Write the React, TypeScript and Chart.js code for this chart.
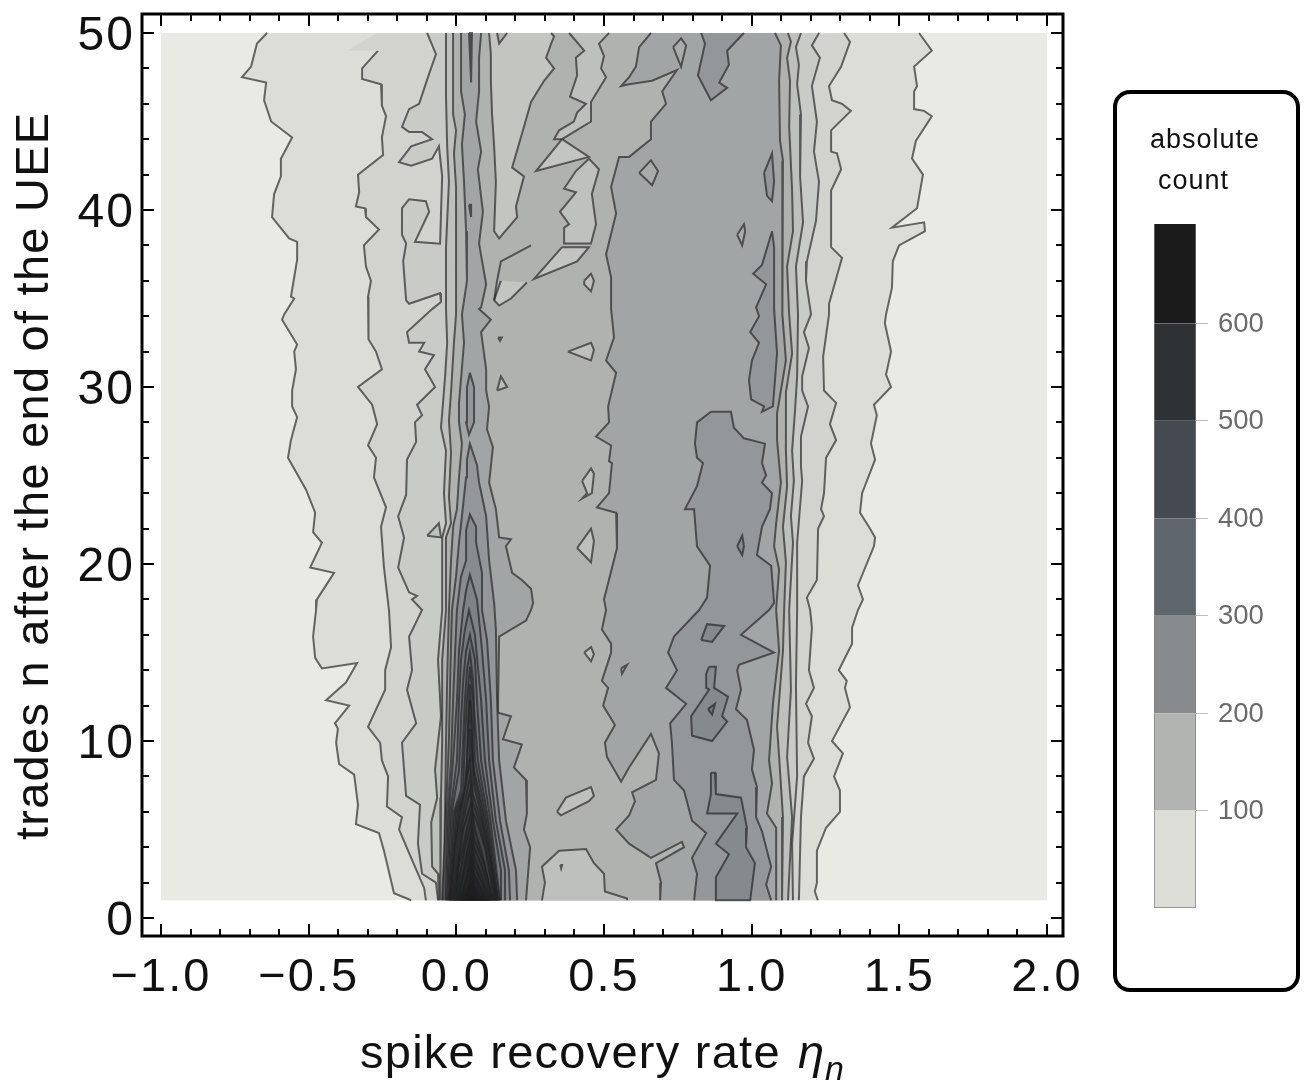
import React, { useEffect, useRef } from "react";
import { Chart, registerables } from "chart.js";

Chart.register(...registerables);

type P = number[];

const xTickValues = [-1, -0.5, 0, 0.5, 1, 1.5, 2];
const xTickLabels = ["\u22121.0", "\u22120.5", "0.0", "0.5", "1.0", "1.5", "2.0"];
const yTickValues = [0, 10, 20, 30, 40, 50];
const legendTicks = [100, 200, 300, 400, 500, 600];
const legendBandValues = [100, 100, 100, 100, 100, 100, 102];
const legendColors = ["#dcddd7", "#b2b4b2", "#878b8d", "#5f666b", "#444a4f", "#2e3234", "#1b1b1b"];

const dataDomain: P[] = [[-1, 1], [-1, 50], [2, 50], [2, 1]];

const c20L: P[] = [[-.641,50],[-.675,49.4],[-.695,48.1],[-.726,47.5],[-.644,47.2],[-.651,46.2],[-.627,45],[-.556,44.1],[-.594,42.9],[-.594,41.9],[-.617,40.9],[-.624,39.6],[-.566,38.4],[-.539,38.2],[-.539,37.2],[-.56,35.1],[-.549,35],[-.583,34.1],[-.59,33.8],[-.539,32.4],[-.549,32],[-.543,31],[-.556,29.8],[-.556,28.9],[-.539,28.3],[-.56,27],[-.57,26],[-.509,24.2],[-.478,22.9],[-.485,21.8],[-.455,21.2],[-.495,19.8],[-.414,19.5],[-.472,18],[-.475,17.4],[-.485,15.9],[-.478,14.7],[-.455,14.1],[-.336,14.4],[-.374,13.3],[-.441,12.3],[-.363,12],[-.411,11],[-.401,10.7],[-.407,9.9],[-.397,8.7],[-.346,8.1],[-.333,6.4],[-.34,5.3],[-.262,4.8],[-.245,3.8],[-.211,1.4],[-.153,1]];
const c20R: P[] = [[1.567,50],[1.61,49],[1.55,48.1],[1.56,47],[1.55,46.7],[1.55,45.7],[1.584,45.6],[1.61,45.3],[1.556,43.9],[1.543,42.9],[1.58,42],[1.56,40.1],[1.475,39],[1.584,39.3],[1.587,38.8],[1.499,38],[1.478,37.1],[1.475,35.6],[1.455,34.1],[1.451,33.6],[1.472,32],[1.455,30.7],[1.472,30],[1.414,29],[1.424,28.4],[1.404,26.8],[1.418,25.9],[1.374,24],[1.367,22.9],[1.397,22.1],[1.418,21.5],[1.414,21],[1.36,18.8],[1.377,18],[1.36,17.4],[1.34,16.4],[1.34,15.5],[1.295,14],[1.322,13.4],[1.316,13],[1.333,11.9],[1.272,10],[1.309,9.3],[1.279,8],[1.299,7.2],[1.299,6],[1.252,5.1],[1.221,3.8],[1.221,2],[1.214,1.5],[1.224,1]];
const c40L: P[] = [[-.265,49],[-.319,48],[-.319,47.4],[-.255,47.1],[-.252,45.9],[-.238,45.3],[-.252,44.1],[-.248,43.1],[-.333,42],[-.329,41],[-.34,40.2],[-.309,40.1],[-.306,39.6],[-.262,38.9],[-.313,38],[-.306,36.8],[-.289,36],[-.299,35.1],[-.296,34.4],[-.299,32.7],[-.272,32],[-.252,31],[-.333,30],[-.285,29],[-.268,27.9],[-.299,26.7],[-.272,26],[-.279,24.9],[-.238,23.2],[-.255,22.1],[-.245,19.8],[-.228,17.4],[-.221,15.3],[-.241,14],[-.241,12.9],[-.299,10.8],[-.258,9.9],[-.252,8.9],[-.231,8],[-.235,6.3],[-.184,5.7],[-.194,5],[-.153,3.4],[-.109,1.7],[-.103,1]];
const c40R: P[] = [[1.313,50],[1.333,49.5],[1.303,48.1],[1.262,47],[1.272,46.2],[1.306,46],[1.336,45.6],[1.269,44.5],[1.269,43.3],[1.289,43.2],[1.303,42.3],[1.269,41.1],[1.269,37.9],[1.306,37.3],[1.262,34.7],[1.262,34.1],[1.242,31.7],[1.245,29.8],[1.286,29.1],[1.265,27.9],[1.286,27],[1.252,26],[1.245,24],[1.235,23.1],[1.245,22.7],[1.225,22],[1.221,19.1],[1.187,18.1],[1.198,17.4],[1.204,16.4],[1.194,14],[1.211,13],[1.184,12.1],[1.204,11.4],[1.191,9.9],[1.211,9],[1.177,8],[1.167,5.7],[1.16,1]];
const topWedge: P[] = [[-.37,49],[-.265,49],[-.09,49],[-.09,50],[-.268,50]];
const c60L: P[] = [[-.099,50],[-.069,48.8],[-.092,47.7],[-.126,46],[-.16,45.7],[-.184,44.7],[-.16,44.4],[-.116,44.4],[-.082,44],[-.153,43.6],[-.194,42.7],[-.153,42.5],[-.082,42.9],[-.059,43.6],[-.048,41.9],[-.055,38.1],[-.14,38.2],[-.092,39.9],[-.103,40.5],[-.16,40.6],[-.184,40.1],[-.184,38.6],[-.17,38.1],[-.18,37.1],[-.17,34.9],[-.16,34.7],[-.055,35.3],[-.052,34.8],[-.082,34.4],[-.167,33.1],[-.16,32.5],[-.109,32.5],[-.126,32],[-.076,31.8],[-.106,31],[-.072,30],[-.133,29],[-.116,28.4],[-.14,28],[-.136,26.9],[-.167,25.9],[-.17,23.9],[-.197,22.7],[-.177,21.5],[-.197,19.8],[-.16,18.4],[-.133,18.2],[-.15,18],[-.116,17.4],[-.16,15.9],[-.15,14],[-.167,12.9],[-.136,11],[-.184,9.9],[-.17,6.9],[-.123,6.4],[-.13,4.2],[-.116,2.5],[-.069,2],[-.062,1]];
const c60R: P[] = [[1.228,50],[1.204,49.3],[1.231,48.6],[1.204,47],[1.221,45],[1.211,43.3],[1.228,41.6],[1.218,39.4],[1.187,37.1],[1.184,36],[1.201,34.1],[1.177,33.1],[1.194,32.2],[1.171,30.6],[1.171,29.8],[1.191,28.9],[1.167,27.2],[1.167,25.5],[1.171,24.7],[1.154,21.2],[1.154,17.4],[1.15,13.1],[1.154,8],[1.137,4.2],[1.14,1]];
const c80L: P[] = [[-.035,50],[-.035,46.4],[-.031,43.6],[-.025,41.6],[-.035,37.9],[-.035,34.4],[-.031,32.5],[-.038,30.6],[-.048,28.5],[-.052,27.7],[-.035,26.4],[-.042,24],[-.035,22.3],[-.048,21.5],[-.048,17.4],[-.062,14.6],[-.052,11.4],[-.072,8.4],[-.065,6.8],[-.085,5.4],[-.082,2.9],[-.062,2.5],[-.059,1]];
const c80R: P[] = [[1.167,50],[1.15,49.2],[1.16,48.2],[1.154,47.1],[1.167,45.4],[1.164,41.9],[1.174,39.3],[1.15,36.8],[1.157,34.1],[1.154,30.6],[1.147,28.7],[1.137,26.4],[1.143,24.7],[1.133,22.7],[1.14,21.2],[1.127,17.4],[1.133,12.9],[1.12,9.1],[1.137,5.7],[1.123,1]];
const c100L: P[] = [[-.011,50],[-.011,45.4],[-.001,44.5],[-.008,43.2],[-.001,41.3],[-.001,38.8],[-.001,34.1],[-.008,32.5],[-.018,29.7],[-.025,28.1],[-.018,26.3],[-.025,23.8],[-.018,22.3],[-.035,21.5],[-.035,17.4],[-.048,14.6],[-.048,9.9],[-.052,6.8],[-.055,3.1],[-.053,1]];
const c100R: P[] = [[1.123,50],[1.133,49.5],[1.12,48.6],[1.13,47.3],[1.127,44.7],[1.137,41.1],[1.14,38.8],[1.12,36.8],[1.127,34.1],[1.137,31.9],[1.116,29.7],[1.116,26.4],[1.12,24.4],[1.106,22.1],[1.116,20.1],[1.11,17.4],[1.106,15.1],[1.086,10.8],[1.093,9.1],[1.106,5.7],[1.103,1]];

const lobeTopA: P[] = [[.111,50],[.117,48.8],[.117,47.3],[.121,45.4],[.128,43.6],[.134,41.6],[.128,38.8],[.145,38.4],[.206,39.6],[.202,40.2],[.229,41.9],[.189,42.4],[.229,44.7],[.253,46.1],[.297,47.3],[.331,48],[.304,48.6],[.321,49.4],[.331,49.8],[.321,50]];
const lobeTopTip: P[] = [[.138,50],[.145,49.4],[.172,50]];
const lobeTopB: P[] = [[.382,50],[.433,49],[.405,48.6],[.409,47.6],[.385,46.4],[.439,46],[.409,45.5],[.398,45],[.348,44.5],[.331,44],[.358,44],[.456,45],[.456,46.1],[.507,47.5],[.49,48],[.5,48.7],[.483,49.4],[.517,50]];
const lobeTri: P[] = [[.358,44],[.449,43],[.27,42.2],[.358,44]];
const lobeMid: P[] = [[.449,42.9],[.483,42.3],[.459,40.9],[.473,39.2],[.456,38.1],[.365,38.1],[.365,39],[.382,39.2],[.351,39.9],[.405,41],[.365,41.2],[.405,42.2],[.449,42.9]];
const lobeLow: P[] = [[.358,37.9],[.449,37.9],[.409,37.1],[.263,36.1],[.358,37.9]];
const lobeTail: P[] = [[.239,35.9],[.185,35],[.145,34.6],[.128,34.9],[.151,36]];
const lobeEdge: P[] = [[.253,38],[.151,37.1],[.138,36],[.128,34.9]];
const lobeBottom: P[] = [[.29,1],[.3,2],[.29,2.9],[.348,3.8],[.439,3.9],[.466,3.1],[.5,2.5],[.503,1.5],[.578,1.1],[.578,1]];
const islands100: P[][] = [
  [[.433,36],[.456,36.4],[.466,36],[.456,35.4],[.433,35.8],[.433,36]],
  [[.378,32],[.456,32.5],[.466,32.1],[.456,31.5],[.378,32]],
  [[.138,29.8],[.151,30.6],[.172,30],[.138,29.8]],
  [[.141,32.8],[.154,32.8],[.148,32.6],[.141,32.8]],
  [[.426,24.7],[.456,25.4],[.466,25.1],[.459,24],[.426,23.7],[.443,24],[.426,24.7]],
  [[.409,20.9],[.456,22],[.466,21.3],[.456,20.1],[.409,20.9]],
  [[-.099,21.6],[-.059,22.3],[-.052,21.5],[-.099,21.6]],
  [[.433,15],[.456,15.3],[.466,14.9],[.456,14.5],[.433,15]],
  [[.341,6],[.371,6.8],[.456,7.4],[.466,6.9],[.449,6.6],[.354,5.8],[.341,6]],
  [[.352,3],[.358,3],[.355,2.8],[.352,3]],
];

const plateauL: P[] = [[.659,50],[.619,49.2],[.608,48.1],[.585,47.5],[.558,47],[.585,47.1],[.663,47.3],[.747,47.9],[.697,46.7],[.71,46],[.659,45],[.659,44],[.585,43],[.551,43],[.524,41.3],[.541,39.8],[.507,37.5],[.524,36.2],[.524,34.4],[.534,32.8],[.507,31.5],[.541,30.8],[.514,28.9],[.517,28],[.473,27.2],[.524,26.7],[.517,25.8],[.527,25.7],[.517,24],[.476,23.2],[.541,22.9],[.544,20.9],[.5,18],[.507,17.4],[.493,16.3],[.524,15.5],[.524,15],[.493,13.4],[.514,13],[.497,12],[.537,10.9],[.503,9.9],[.51,9.1],[.558,7.7],[.585,8.5],[.659,10.4],[.686,9.3],[.676,7.8],[.595,7.1],[.605,6.6],[.585,5.8],[.541,5],[.585,4.2],[.659,3.4],[.764,4.3],[.771,4],[.676,3.1],[.693,2],[.69,1]];
const plateauR: P[] = [[1.079,50],[1.099,49.3],[1.093,47.3],[1.096,43.9],[1.106,42.8],[1.103,40.9],[1.103,39],[1.106,34.1],[1.116,31.5],[1.086,28.5],[1.086,27],[1.099,24.6],[1.083,22.3],[1.076,21],[1.093,19.7],[1.083,17.4],[1.093,15.1],[1.072,12.1],[1.059,8.9],[1.069,7.6],[1.052,5.9],[1.083,5.1],[1.083,2.3],[1.083,1]];
const plateauIslands: P[][] = [
  [[.734,49.2],[.761,49.7],[.778,49.3],[.761,48.1],[.734,49.2]],
  [[.619,42.1],[.659,42.8],[.683,42.2],[.663,41.4],[.619,42.1]],
  [[.951,38.6],[.974,39.2],[.978,38.8],[.968,38],[.951,38.6]],
  [[.558,14.1],[.578,14.3],[.561,13.8],[.558,14.1]],
];
const high140Top: P[] = [[.829,50],[.842,49.4],[.818,47.6],[.862,46.2],[.917,46.9],[.89,47.2],[.923,48.2],[.917,49],[.974,50]];
const high140Strip: P[] = [[1.069,38.8],[1.035,36.9],[1.005,36.4],[1.049,35.8],[1.015,34.5],[1.025,34],[.995,33.1],[1.025,32.5],[1.001,31.5],[.991,30.4],[.998,29.3],[1.042,28.9],[1.035,28.6],[1.072,28.9],[1.086,31.9],[1.076,34.4],[1.076,37.9],[1.069,38.8]];
const high140Sliver: P[] = [[1.042,42.1],[1.069,43.2],[1.076,41.6],[1.069,40.5],[1.052,40.8],[1.042,42.1]];
const high140L: P[] = [[.862,28.6],[.815,28],[.808,26.8],[.815,26],[.835,25.7],[.815,24.4],[.774,23.1],[.805,23.1],[.815,21],[.859,19.9],[.849,18.1],[.822,17.4],[.737,15.9],[.717,15],[.747,14],[.71,13],[.778,12.1],[.724,11],[.73,9.9],[.737,7.8],[.771,7.2],[.798,5.5],[.846,4.8],[.798,3.4],[.815,2.5],[.805,1]];
const high140R: P[] = [[.862,28.6],[.93,28.6],[.94,27.7],[.974,27.1],[1.045,26.8],[1.035,25.7],[1.049,25],[1.035,24.6],[1.069,24],[1.062,23.1],[1.035,22.1],[1.018,20.5],[1.066,19.9],[1.076,17.8],[1.059,17.4],[.964,16],[1.076,15],[.957,14.3],[.951,14],[.964,12.9],[.947,11.8],[.984,11.2],[1.008,9.5],[1.001,8.4],[1.018,7.4],[1.015,5.7],[1.035,4.9],[1.066,2.9],[1.049,1.9],[1.066,1]];
const high160Islands: P[][] = [
  [[.829,15.7],[.849,16.6],[.907,16.5],[.866,15.6],[.829,15.7]],
  [[.856,14.2],[.879,14.2],[.873,13],[.92,12.5],[.9,11.4],[.917,11.1],[.866,10],[.798,10.3],[.795,11.4],[.856,12.9],[.846,13],[.846,13.8],[.856,14.2]],
  [[.951,21],[.968,21.6],[.974,21],[.968,20.5],[.951,21]],
  [[.862,8.2],[.876,8.2],[.879,7],[.964,6.8],[.984,5.1],[.981,4],[1.011,3.1],[.995,1],[.879,1],[.879,2.3],[.923,3.6],[.879,4.2],[.951,5.9],[.849,5.9],[.862,7],[.862,8.2]],
];
const high180Island: P[] = [[.852,11.8],[.876,12.1],[.866,11.5],[.852,11.8]];

const c120RidgeL: P[] = [[.016,50],[.016,46.7],[.029,45.4],[.019,43.7],[.026,41.6],[.033,38.8],[.036,36],[.019,34.1],[.026,32.5],[.009,29.1],[.009,28],[.019,26.8],[.009,24.9],[.002,23.1],[-.011,22.1],[-.018,20.2],[-.025,17.4],[-.031,13.6],[-.035,9.9],[-.04,4.2],[-.048,1]];
const c120RidgeR: P[] = [[.084,50],[.077,48.6],[.077,46.7],[.067,45],[.084,43.3],[.073,42.3],[.09,39.9],[.077,38.1],[.101,35.8],[.084,34.5],[.077,34.4],[.117,33.8],[.084,33.1],[.101,31],[.101,29.8],[.111,28.9],[.104,27.6],[.124,26.6],[.111,24.6],[.134,23.1],[.145,21.5],[.185,21.4],[.168,21],[.189,19.5],[.222,19.1],[.253,18.6],[.26,17.8],[.253,17.4],[.236,16.8],[.145,15.9],[.141,11.6],[.185,11.4],[.158,10.1],[.222,9.8],[.195,8.5],[.236,7.8],[.239,5.9],[.229,5],[.25,4],[.236,1]];

const ridgeCap: P[] = [[.043,50],[.053,50],[.05,47.2],[.043,50]];
const ridgeDash: P[] = [[.043,40.3],[.05,40.3],[.05,39.6],[.043,40.3]];
const ridgeUpper: P[] = [[.046,30.8],[.06,30],[.06,28.9],[.06,28],[.043,27.3],[.033,28],[.036,30],[.046,30.8]];
const ridge140: P[] = [[-.045,1],[-.035,6],[-.025,10.1],[-.021,13.4],[-.015,17.4],[-.001,19.3],[.009,21.2],[.019,22.7],[.033,24.9],[.036,25.9],[.046,26.8],[.07,25.6],[.077,24.6],[.101,22.7],[.111,20.2],[.128,17.8],[.134,16.3],[.138,12.3],[.145,8.9],[.168,5.5],[.202,2.7],[.206,1]];
const ridge160: P[] = [[-.038,1],[-.03,6],[-.018,8.9],[-.011,12.3],[-.004,15.1],[.002,17.4],[.016,19.3],[.033,20.2],[.033,21.9],[.046,22.8],[.067,22.1],[.067,21.2],[.087,19.5],[.087,17.4],[.104,15.7],[.117,12.3],[.124,8.9],[.148,5.5],[.178,2.7],[.182,1]];
const ridge180: P[] = [[-.035,1],[-.025,6],[-.011,8.9],[.002,12.3],[.009,15.1],[.023,17.4],[.033,18.5],[.046,19.4],[.07,18],[.084,15.7],[.101,12.3],[.111,8.9],[.134,5.5],[.165,2.7],[.165,1]];
const ridge200: P[] = [[-.031,1],[-.02,6],[.002,8.9],[.009,12.3],[.016,14.6],[.029,16.3],[.043,17.4],[.063,16],[.084,12.3],[.097,8.9],[.124,5.5],[.151,2.7],[.151,1]];
const ridge220: P[] = [[-.028,1],[-.015,6],[.009,8.4],[.016,11.2],[.023,13.4],[.033,15.1],[.046,16],[.063,14.6],[.07,12.3],[.084,8.9],[.116,5.5],[.148,1]];
const ridge240: P[] = [[-.025,1],[-.009,6],[.016,7.2],[.023,10.1],[.029,12.3],[.036,14],[.046,15],[.057,13.4],[.06,11.8],[.073,8.9],[.109,5.5],[.145,1]];
const ridge260: P[] = [[-.023,1],[-.004,6],[.023,7.2],[.029,10.1],[.036,12.3],[.046,14.2],[.057,12.3],[.063,8.9],[.104,5.5],[.141,1]];
const ridge280: P[] = [[-.021,1],[.001,6],[.029,7.2],[.036,8.9],[.04,11.2],[.046,13.2],[.053,11.2],[.057,8.6],[.099,5.5],[.139,1]];
const ridge300: P[] = [[-.02,1],[.006,6],[.033,7.2],[.04,10.1],[.046,12.3],[.053,10.1],[.06,8],[.094,5.5],[.138,1]];
const ridge320: P[] = [[-.018,1],[.011,6],[.036,7.5],[.043,8.9],[.046,10.7],[.053,8.9],[.06,7.5],[.089,5.5],[.136,1]];
const ridge340: P[] = [[-.015,1],[-.004,4],[.016,6],[.046,8.9],[.056,7],[.084,5.5],[.107,4],[.134,1]];
const ridge360: P[] = [[-.011,1],[.002,4],[.023,6],[.046,8],[.056,6.5],[.077,5.5],[.101,4],[.131,1]];
const ridge380: P[] = [[-.008,1],[.009,4],[.023,5.5],[.046,7.2],[.056,6],[.073,5.3],[.097,4],[.128,1]];
const ridge400: P[] = [[-.004,1],[.006,3],[.023,5],[.05,6.5],[.063,5],[.087,3.6],[.124,1]];
const ridge420: P[] = [[-.001,1],[.009,3],[.029,4.5],[.05,6],[.06,4.5],[.095,3],[.121,1]];
const ridge440: P[] = [[.002,1],[.013,2.5],[.029,4],[.05,5.4],[.06,4],[.09,2.8],[.117,1]];
const ridge460: P[] = [[.006,1],[.016,2],[.033,3.5],[.05,4.8],[.06,3.5],[.09,2.2],[.114,1]];
const ridge480: P[] = [[.009,1],[.019,2],[.033,3],[.05,4.2],[.06,3],[.087,2],[.111,1]];
const ridge500: P[] = [[.013,1],[.036,2.5],[.05,3.6],[.06,2.5],[.107,1]];
const ridge520: P[] = [[.016,1],[.036,2.2],[.05,3.1],[.06,2.2],[.104,1]];
const ridge540: P[] = [[.019,1],[.04,1.8],[.05,2.6],[.06,1.8],[.1,1]];
const ridge560: P[] = [[.023,1],[.043,1.5],[.05,2.2],[.057,1.5],[.094,1]];
const ridge580: P[] = [[.029,1],[.05,1.8],[.087,1]];
const ridge600: P[] = [[.036,1],[.05,1.4],[.08,1]];
const ridgeContours = [ridge140, ridge160, ridge180, ridge200, ridge220, ridge240, ridge260, ridge280, ridge300, ridge320, ridge340, ridge360, ridge380, ridge400, ridge420, ridge440, ridge460, ridge480, ridge500, ridge520, ridge540, ridge560, ridge580, ridge600];
const ridgeColors = ["#93979a", "#888c8e", "#7e8385", "#767b7e", "#6d7276", "#656a6e", "#5e6468", "#585e62", "#52585c", "#4c5256", "#474c50", "#44494d", "#3f4447", "#3b3f42", "#383b3e", "#343739", "#303335", "#2d3032", "#2a2c2e", "#272829", "#242526", "#212223", "#1e1f20", "#1b1b1c"];

const bandColors = ["#e9eae3", "#dcddd7", "#d2d3ce", "#c9cbc7", "#bec0bd", "#b0b2b0", "#a2a5a5", "#93979a", "#858a8c", "#787d80"];
const lineColor = "rgba(30,30,30,0.65)";
const lineWidth = 2;
const sansFont = "'Liberation Sans', Arial, sans-serif";

const pts = (list: P[]) => list.map((p) => ({ x: p[0], y: p[1] }));

function fillLayer(list: P[], color: string, stroke = false) {
  return {
    data: pts(list),
    showLine: true,
    fill: "shape",
    backgroundColor: color,
    borderColor: stroke ? lineColor : "transparent",
    borderWidth: stroke ? lineWidth : 1,
    pointRadius: 0,
    tension: 0,
  };
}
function lineLayer(data: { x: number; y: number }[]) {
  return { data, showLine: true, fill: false, borderColor: lineColor, borderWidth: lineWidth, pointRadius: 0, tension: 0 };
}
function bandLayers(left: P[], right: P[], color: string) {
  return [
    fillLayer([...left, ...[...right].reverse()], color),
    lineLayer([...pts(left), { x: NaN, y: NaN }, ...pts(right)]),
  ];
}

function buildLayers() {
  const under = [
    fillLayer(dataDomain, bandColors[0]),
    ...bandLayers(c20L, c20R, bandColors[1]),
    ...bandLayers(c40L, c40R, bandColors[2]),
    fillLayer(topWedge, bandColors[2]),
    ...bandLayers(c60L, c60R, bandColors[3]),
    ...bandLayers(c80L, c80R, bandColors[4]),
    ...bandLayers(c100L, c100R, bandColors[5]),
    fillLayer(lobeTopA, "#c3c5c1", true),
    fillLayer(lobeTopTip, bandColors[5], true),
    fillLayer(lobeTopB, "#bec0bd", true),
    fillLayer(lobeTri, "#c3c5c1", true),
    fillLayer(lobeMid, "#bfc1be", true),
    fillLayer(lobeLow, "#c3c5c1", true),
    fillLayer(lobeTail, "#c3c5c1", true),
    lineLayer(pts(lobeEdge)),
    fillLayer(lobeBottom, bandColors[4], true),
    ...islands100.map((i) => fillLayer(i, bandColors[4], true)),
    ...bandLayers(plateauL, plateauR, bandColors[6]),
    ...plateauIslands.map((i) => fillLayer(i, "#a9acab", true)),
    fillLayer(high140Top, bandColors[7], true),
    fillLayer(high140Strip, bandColors[7], true),
    fillLayer(high140Sliver, bandColors[7], true),
    ...bandLayers(high140L, high140R, bandColors[7]),
    ...high160Islands.map((i) => fillLayer(i, bandColors[8], true)),
    fillLayer(high180Island, bandColors[9], true),
    ...bandLayers(c120RidgeL, c120RidgeR, bandColors[6]),
    fillLayer(ridgeCap, bandColors[7], true),
    fillLayer(ridgeDash, bandColors[7], true),
    fillLayer(ridgeUpper, bandColors[7], true),
    ...ridgeContours.map((r, i) => fillLayer(r, ridgeColors[i], true)),
  ];
  return under.reverse();
}

const framePlugin = {
  id: "frame",
  beforeDraw(chart: any) {
    chart.ctx.letterSpacing = "2px";
  },
  afterDraw(chart: any) {
    const { ctx, chartArea: a, scales } = chart;
    ctx.save();
    ctx.strokeStyle = "#000";
    ctx.lineWidth = 2;
    ctx.beginPath();
    for (let i = -10; i <= 20; i++) {
      const v = i / 10;
      const len = i % 5 === 0 ? 12 : 7;
      const px = Math.round(scales.x.getPixelForValue(v));
      ctx.moveTo(px, a.bottom);
      ctx.lineTo(px, a.bottom - len);
      ctx.moveTo(px, a.top);
      ctx.lineTo(px, a.top + len);
    }
    for (let i = 0; i <= 50; i += 2) {
      const len = i % 10 === 0 ? 12 : 7;
      const py = Math.round(scales.y.getPixelForValue(i));
      ctx.moveTo(a.left, py);
      ctx.lineTo(a.left + len, py);
      ctx.moveTo(a.right, py);
      ctx.lineTo(a.right - len, py);
    }
    ctx.stroke();
    ctx.lineWidth = 3;
    ctx.strokeRect(a.left, a.top, a.right - a.left, a.bottom - a.top);

    ctx.fillStyle = "#111";
    ctx.textAlign = "left";
    ctx.textBaseline = "alphabetic";
    ctx.letterSpacing = "1.25px";
    ctx.font = `47px ${sansFont}`;
    ctx.fillText("spike recovery rate", 360, 1068);
    ctx.letterSpacing = "0px";
    ctx.font = `italic 47px ${sansFont}`;
    ctx.fillText("\u03b7", 798, 1068);
    ctx.font = `italic 34px ${sansFont}`;
    ctx.fillText("n", 825, 1080);
    ctx.translate(48, 840);
    ctx.rotate(-Math.PI / 2);
    ctx.letterSpacing = "1.25px";
    ctx.font = `47px ${sansFont}`;
    ctx.fillText("trades n after the end of the UEE", 0, 0);
    ctx.restore();
  },
};

export default function App() {
  const mainRef = useRef<HTMLCanvasElement>(null);
  const legendRef = useRef<HTMLCanvasElement>(null);

  useEffect(() => {
    const main = new Chart(mainRef.current!, {
      type: "scatter",
      data: { datasets: buildLayers() as any },
      plugins: [framePlugin],
      options: {
        responsive: false,
        animation: false,
        devicePixelRatio: 1,
        layout: { padding: { top: 14, right: 241, left: 0, bottom: 0 } },
        plugins: { legend: { display: false }, tooltip: { enabled: false }, filler: { propagate: false } },
        scales: {
          x: {
            type: "linear",
            min: -1.0643,
            max: 2.0542,
            grid: { display: false, drawTicks: false },
            border: { display: false },
            afterBuildTicks: (s: any) => {
              s.ticks = xTickValues.map((value) => ({ value }));
            },
            afterFit: (s: any) => {
              s.height = 147;
              s.paddingLeft = 0;
              s.paddingRight = 0;
            },
            ticks: {
              autoSkip: false,
              maxRotation: 0,
              padding: 14,
              color: "#111",
              font: { family: sansFont, size: 47 },
              callback: (v: any) => xTickLabels[xTickValues.indexOf(Number(v))],
            },
          },
          y: {
            type: "linear",
            min: -1.017,
            max: 51.073,
            grid: { display: false, drawTicks: false },
            border: { display: false },
            afterBuildTicks: (s: any) => {
              s.ticks = yTickValues.map((value) => ({ value }));
            },
            afterFit: (s: any) => {
              s.width = 142;
              s.paddingTop = 0;
              s.paddingBottom = 0;
            },
            ticks: {
              autoSkip: false,
              padding: 7,
              labelOffset: 4,
              color: "#111",
              font: { family: sansFont, size: 48 },
              callback: (v: any) => String(v),
            },
          },
        },
      },
    });

    const legend = new Chart(legendRef.current!, {
      type: "bar",
      data: {
        labels: ["count"],
        datasets: legendBandValues.map((v, i) => ({
          data: [v],
          backgroundColor: legendColors[i],
          borderColor: "rgba(70,70,70,0.7)",
          borderWidth: i === 0 ? { left: 1, right: 1, bottom: 1 } : { left: 1, right: 1 },
          borderSkipped: false,
          barPercentage: 1,
          categoryPercentage: 1,
        })),
      },
      options: {
        responsive: false,
        animation: false,
        devicePixelRatio: 1,
        layout: { padding: { left: 34, right: 0, top: 24, bottom: 22 } },
        plugins: { legend: { display: false }, tooltip: { enabled: false } },
        scales: {
          x: { stacked: true, display: false },
          y: {
            stacked: true,
            position: "right",
            min: 0,
            max: 702,
            border: { display: false },
            grid: { drawOnChartArea: false, drawTicks: true, tickLength: 12, tickColor: "#bdbdbd" },
            afterBuildTicks: (s: any) => {
              s.ticks = legendTicks.map((value) => ({ value }));
            },
            afterFit: (s: any) => {
              s.width = 98;
              s.paddingTop = 0;
              s.paddingBottom = 0;
            },
            ticks: { padding: 10, labelOffset: 1, color: "#6b6b6b", font: { family: sansFont, size: 27.5 } },
          },
        },
      },
    });

    return () => {
      main.destroy();
      legend.destroy();
    };
  }, []);

  const textStyle: React.CSSProperties = {
    position: "absolute",
    font: `27px ${sansFont}`,
    letterSpacing: "1px",
    color: "#111",
    lineHeight: "32px",
    whiteSpace: "nowrap",
  };

  return (
    <div style={{ position: "absolute", left: 0, top: 0, width: 1304, height: 1083, background: "#fff", overflow: "hidden" }}>
      <canvas ref={mainRef} width={1304} height={1083} style={{ position: "absolute", left: 0, top: 0 }} />
      <div
        style={{
          position: "absolute",
          left: 1113,
          top: 90,
          width: 187,
          height: 902,
          boxSizing: "border-box",
          border: "4px solid #000",
          borderRadius: 17,
        }}
      />
      <div style={{ ...textStyle, left: 1150, top: 123 }}>absolute</div>
      <div style={{ ...textStyle, left: 1158, top: 164 }}>count</div>
      <canvas ref={legendRef} width={174} height={730} style={{ position: "absolute", left: 1120, top: 200 }} />
    </div>
  );
}
